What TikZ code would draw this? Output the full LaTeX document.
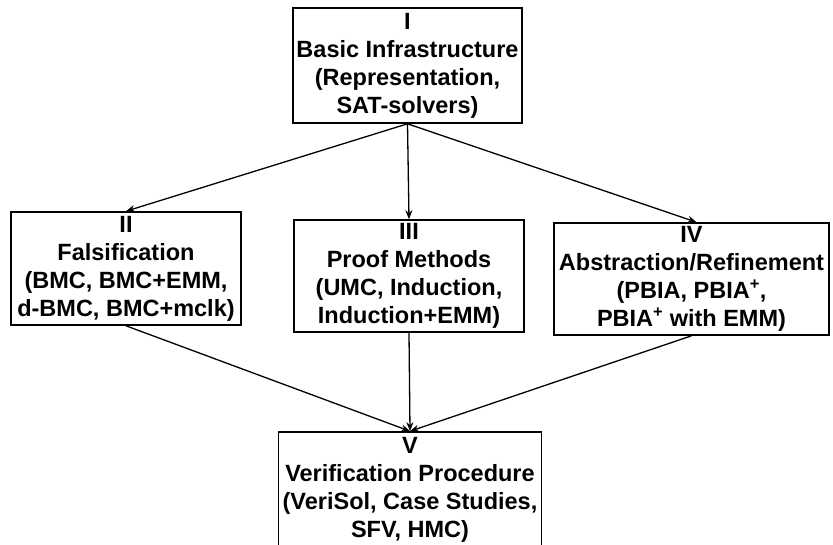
\documentclass[tikz,border=0pt]{standalone}
\usepackage{fontspec}
\setmainfont{Liberation Sans}
\usetikzlibrary{arrows.meta}
\begin{document}
\begin{tikzpicture}[x=1pt,y=-1pt,
  stage/.style={draw=black,line width=1.6pt,rectangle,align=center,
    inner sep=0pt,font=\fontsize{23.5}{28}\selectfont\bfseries},
  flow/.style={line width=1.3pt,-{Stealth[length=9pt,width=7pt]}}]
\useasboundingbox (0,0) rectangle (833,544);
% five stages of the flow
\node[stage,minimum width=229pt,minimum height=115pt] (I) at (407.5,65.5)
  {I\\Basic Infrastructure\\(Representation,\\SAT-solvers)};
\node[stage,minimum width=230pt,minimum height=113pt] (II) at (126,268.5)
  {II\\Falsification\\(BMC, BMC+EMM,\\d-BMC, BMC+mclk)};
\node[stage,minimum width=230pt,minimum height=112pt] (III) at (409,276)
  {III\\Proof Methods\\(UMC, Induction,\\Induction+EMM)};
\node[stage,minimum width=275pt,minimum height=112pt] (IV) at (691.5,279)
  {IV\\Abstraction/Refinement\\(PBIA, PBIA\textsuperscript{+},\\PBIA\textsuperscript{+} with EMM)};
\node[stage,minimum width=263pt,minimum height=116pt] (V) at (410,490)
  {V\\Verification Procedure\\(VeriSol, Case Studies,\\SFV, HMC)};
% connectors
\draw[flow] (I.south) -- (II.north);
\draw[flow] (I.south) -- (III.north);
\draw[flow] (I.south) -- ([xshift=5pt]IV.north);
\draw[flow] (II.south) -- (V.north);
\draw[flow] (III.south) -- (V.north);
\draw[flow] (IV.south) -- (V.north);
\end{tikzpicture}
\end{document}
